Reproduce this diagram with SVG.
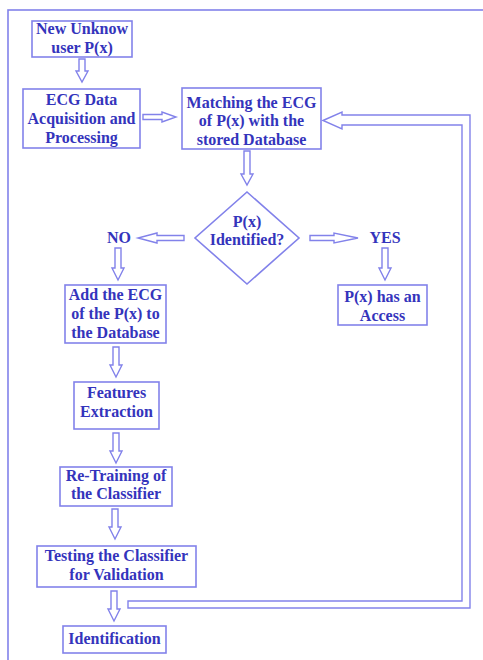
<svg xmlns="http://www.w3.org/2000/svg" width="483" height="660" viewBox="0 0 483 660">
<style>
.b{fill:#fff;stroke:#8282ea;stroke-width:1.6}
.a{fill:#fff;stroke:#8282ea;stroke-width:1.4;stroke-linejoin:miter}
.t{font-family:"Liberation Serif","Times New Roman",serif;font-weight:bold;font-size:16px;fill:#3434bc;text-anchor:middle}
</style>
<rect x="0" y="0" width="483" height="660" fill="#fff"/>
<rect x="8" y="10" width="490" height="670" fill="none" stroke="#8282ea" stroke-width="1.6"/>
<g id="connectors">
<polygon class="a" points="79,59 85,59 85,71 88,71 82,82 76,71 79,71"/>
<polygon class="a" points="143,114.5 162,114.5 162,112 176,117 162,122 162,119.5 143,119.5"/>
<polygon class="a" points="244,151 250,151 250,174 253,174 247,185 241,174 244,174"/>
<polygon class="a" points="184,235.5 157,235.5 157,233 138,238 157,243 157,240.5 184,240.5"/>
<polygon class="a" points="310,235.5 334,235.5 334,233 358,238 334,243 334,240.5 310,240.5"/>
<polygon class="a" points="115,248 121,248 121,268 124,268 118,280 112,268 115,268"/>
<polygon class="a" points="382,248 388,248 388,268 391,268 385,280 379,268 382,268"/>
<polygon class="a" points="113,347 119,347 119,365 122,365 116,377 110,365 113,365"/>
<polygon class="a" points="113,433 119,433 119,451 122,451 116,463 110,451 113,451"/>
<polygon class="a" points="112,509 118,509 118,527 121,527 115,539 109,527 112,527"/>
<polygon class="a" points="111,591 117,591 117,609 120,609 114,621 108,609 111,609"/>
<polygon class="a" points="323,120.5 342,112 342,115 470,115 470,608 128,608 128,601 462,601 462,125 342,125 342,129"/>
</g>
<g id="n1"><rect class="b" x="32" y="21" width="100" height="36"/><text class="t" x="82" y="34">New Unknow</text><text class="t" x="82" y="53">user P(x)</text></g>
<g id="n2"><rect class="b" x="23" y="89" width="117" height="59"/><text class="t" x="81.5" y="105">ECG Data</text><text class="t" x="81.5" y="124">Acquisition and</text><text class="t" x="81.5" y="143">Processing</text></g>
<g id="n3"><rect class="b" x="182" y="88" width="139" height="61"/><text class="t" x="251.5" y="108">Matching the ECG</text><text class="t" x="251.5" y="126">of P(x) with the</text><text class="t" x="251.5" y="145">stored Database</text></g>
<g id="n4"><polygon class="b" points="247,192 299,238 247,284 195,238"/><text class="t" x="247" y="227">P(x)</text><text class="t" x="247" y="245">Identified?</text></g>
<g id="no"><text class="t" x="119" y="243">NO</text></g>
<g id="yes"><text class="t" x="385" y="243">YES</text></g>
<g id="n5"><rect class="b" x="65" y="285" width="101" height="58"/><text class="t" x="115.5" y="300">Add the ECG</text><text class="t" x="115.5" y="319">of the P(x) to</text><text class="t" x="115.5" y="338">the Database</text></g>
<g id="n6"><rect class="b" x="338" y="285" width="89" height="40"/><text class="t" x="382.5" y="302">P(x) has an</text><text class="t" x="382.5" y="321">Access</text></g>
<g id="n7"><rect class="b" x="74" y="382" width="85" height="47"/><text class="t" x="116.5" y="398">Features</text><text class="t" x="116.5" y="417">Extraction</text></g>
<g id="n8"><rect class="b" x="60" y="467" width="112" height="39"/><text class="t" x="116" y="481">Re-Training of</text><text class="t" x="116" y="499">the Classifier</text></g>
<g id="n9"><rect class="b" x="37" y="546" width="159" height="41"/><text class="t" x="116.5" y="561">Testing the Classifier</text><text class="t" x="116.5" y="580">for Validation</text></g>
<g id="n10"><rect class="b" x="63" y="626" width="103" height="27"/><text class="t" x="114.5" y="644">Identification</text></g>
</svg>
